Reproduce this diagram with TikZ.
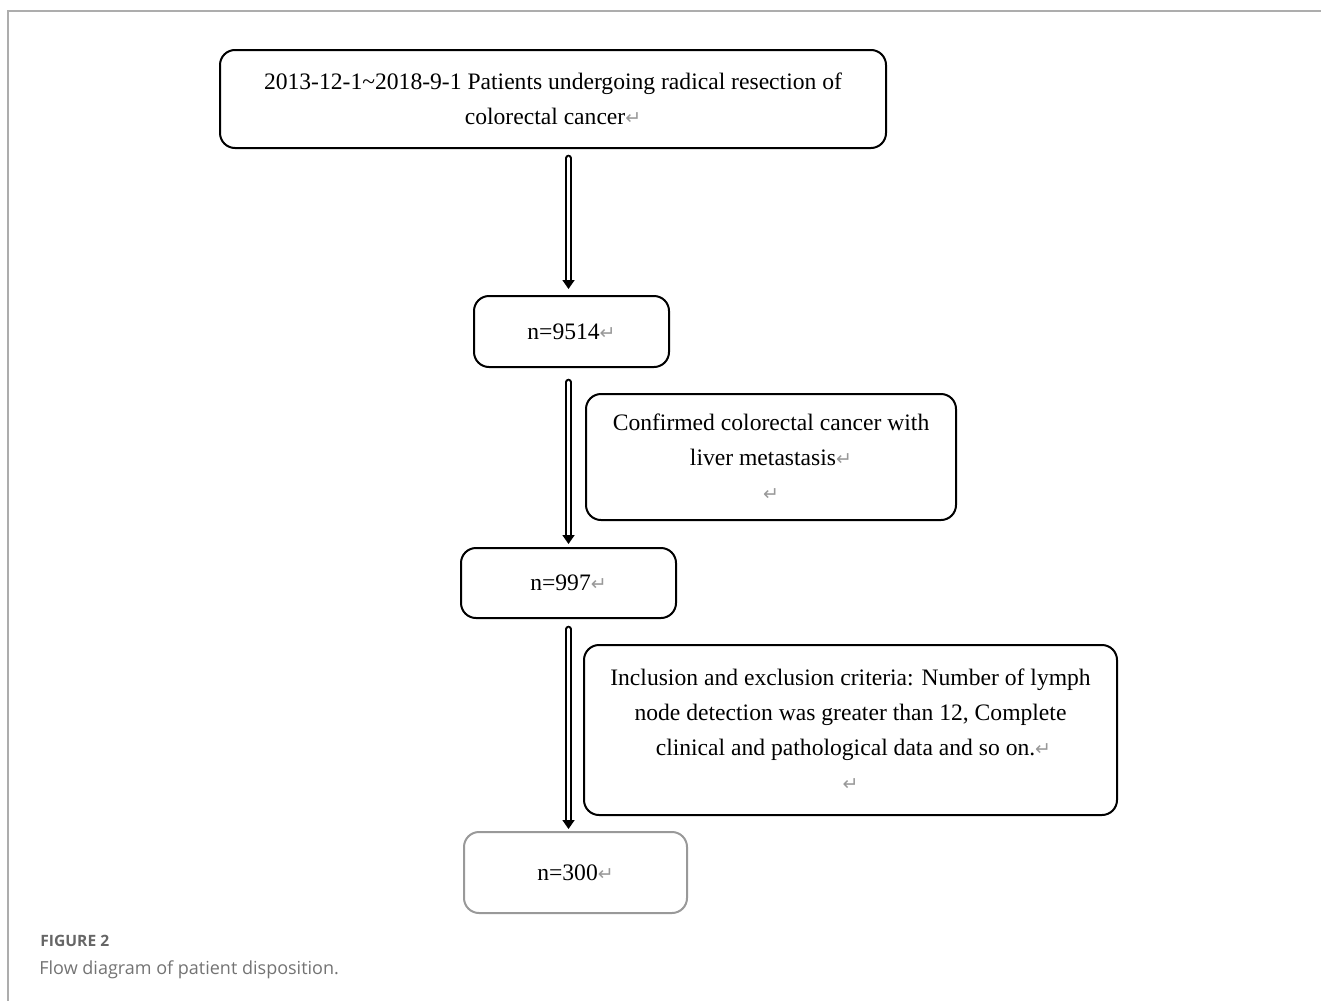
\documentclass[tikz,border=0pt]{standalone}
\usepackage{fontspec}
\setmainfont{Liberation Serif}
\newfontfamily\capfont{Open Sans}
\newfontfamily\markfont{DejaVu Sans}
\usetikzlibrary{arrows.meta}
\newcommand{\pmark}{{\markfont\color{black!40}\fontsize{9.5}{9.5}\selectfont ↵}}
\tikzset{
  box/.style={draw=black, line width=1pt, rounded corners=7.5pt, align=center,
    inner sep=0pt, font=\fontsize{11.8}{17.5}\selectfont},
  flow/.style={draw=black, line width=0.9pt, double=white, double distance=1.5pt,
    line cap=round, -{Triangle[width=6pt,length=4.5pt]}}
}
\begin{document}
\begin{tikzpicture}[x=0.5pt,y=-0.5pt]
  \useasboundingbox (0,0) rectangle (1321,1001);
  \draw [black!32, line width=1pt] (1321,10.5) -- (7.5,10.5) -- (7.5,1001);
  \node [box, minimum width=333pt, minimum height=49pt] (top) at (553,99)
    {2013-12-1\textasciitilde2018-9-1 Patients undergoing radical resection of\\ colorectal cancer\pmark};
  \node [box, minimum width=97.5pt, minimum height=35.5pt] (n1) at (571.5,331.5) {n=9514\pmark};
  \node [box, minimum width=185pt, minimum height=63pt] (conf) at (771,457)
    {Confirmed colorectal cancer with\\ liver metastasis\pmark\\ \pmark};
  \node [box, minimum width=107.5pt, minimum height=35pt] (n2) at (568.5,583) {n=997\pmark};
  \node [box, minimum width=266.5pt, minimum height=85pt] (incl) at (850.5,730)
    {Inclusion and exclusion criteria: Number of lymph\\ node detection was greater than 12, Complete\\ \ clinical and pathological data and so on.\pmark\\ \pmark};
  \node [box, draw=black!40, minimum width=111.5pt, minimum height=40.5pt] (n3) at (575.5,872.5) {n=300\pmark};
  \draw [flow, shorten <=4.5pt, shorten >=3pt] (top.south -| n2) -- (n1.north -| n2);
  \draw [flow, shorten <=7pt, shorten >=1.5pt] (n1.south -| n2) -- (n2.north);
  \draw [flow, shorten <=5pt, shorten >=1pt] (n2.south) -- (n3.north -| n2);
  \node [anchor=west, inner sep=0pt, text=black!60, font=\capfont\bfseries\fontsize{7.8}{9}\selectfont] (figno) at (40,941) {FIGURE 2};
  \node [anchor=west, inner sep=0pt, text=black!55, font=\capfont\fontsize{9}{10}\selectfont] (cap) at (39,970) {Flow diagram of patient disposition.};
\end{tikzpicture}
\end{document}
